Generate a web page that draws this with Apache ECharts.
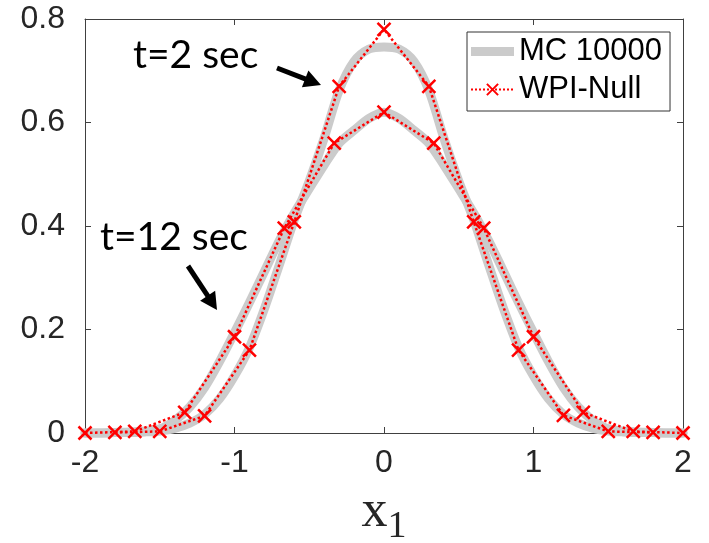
<!DOCTYPE html>
<html>
<head>
<meta charset="utf-8">
<script src="https://cdn.jsdelivr.net/npm/echarts@6/dist/echarts.min.js"></script>
<style>
  html, body { margin: 0; padding: 0; background: #fff; }
  #chart { width: 709px; height: 543px; }
</style>
</head>
<body>
<div id="chart"></div>
<script>
// x-grid of the Monte Carlo density estimates
const xMC = [-2.0,-1.9,-1.8,-1.7,-1.6,-1.5,-1.4,-1.3,-1.2,-1.1,-1.0,-0.9,-0.8,-0.7,-0.6,-0.5,-0.4,-0.3,-0.2,-0.1,
             0.0,0.1,0.2,0.3,0.4,0.5,0.6,0.7,0.8,0.9,1.0,1.1,1.2,1.3,1.4,1.5,1.6,1.7,1.8,1.9,2.0];
// MC 10000, t = 2 sec
const yMC2 = [0.000,0.000,0.001,0.001,0.002,0.004,0.009,0.019,0.036,0.066,0.110,0.165,0.240,0.325,0.412,0.487,0.570,0.662,0.718,0.742,
              0.746,0.742,0.718,0.662,0.570,0.487,0.412,0.325,0.240,0.165,0.110,0.066,0.036,0.019,0.009,0.004,0.002,0.001,0.001,0.000,0.000];
// MC 10000, t = 12 sec
const yMC12 = [0.000,0.000,0.001,0.002,0.004,0.008,0.024,0.050,0.088,0.138,0.194,0.252,0.312,0.372,0.425,0.472,0.518,0.560,0.585,0.608,
               0.620,0.608,0.585,0.560,0.518,0.472,0.425,0.372,0.312,0.252,0.194,0.138,0.088,0.050,0.024,0.008,0.004,0.002,0.001,0.000,0.000];

// WPI-Null solution, t = 2 sec
const xWpi2 = [-1.8,-1.5,-1.2,-0.9,-0.6,-0.3,0.0,0.3,0.6,0.9,1.2,1.5,1.8];
const yWpi2 = [0.001,0.003,0.033,0.160,0.408,0.670,0.780,0.670,0.408,0.160,0.034,0.003,0.001];
// WPI-Null solution, t = 12 sec
const xWpi12 = [-2.0,-1.667,-1.333,-1.0,-0.667,-0.333,0.0,0.333,0.667,1.0,1.333,1.667,2.0];
const yWpi12 = [0.000,0.003,0.040,0.186,0.396,0.560,0.620,0.560,0.396,0.186,0.040,0.003,0.000];

const xTicks = [-2, -1, 0, 1, 2];
const yTicks = [0, 0.2, 0.4, 0.6, 0.8];

const pairs = (xs, ys) => xs.map((x, i) => [x, ys[i]]);

const AX = '#404040';
const TXT = '#262626';
const MC_COLOR = '#cbcbcb';
const WPI_COLOR = '#ff0000';
const CROSS = 'path://M0,0L10,10M10,0L0,10';
// thick bar centred in the legend icon box
const BAR = 'path://M0,0M0,14M0,2.5H43V11.5H0Z';

function mcSeries(ys) {
  return {
    name: 'MC 10000', type: 'line', data: pairs(xMC, ys),
    showSymbol: false, symbol: 'none', smooth: 0.3, clip: false,
    lineStyle: { color: MC_COLOR, width: 9, cap: 'round', join: 'round' },
    itemStyle: { color: MC_COLOR },
    z: 2
  };
}
function wpiSeries(xs, ys) {
  return {
    name: 'WPI-Null', type: 'line', data: pairs(xs, ys),
    symbol: CROSS, symbolSize: 13, showAllSymbol: true, clip: false,
    lineStyle: { color: WPI_COLOR, width: 2.5, type: 'dotted' },
    itemStyle: { color: 'none', borderColor: WPI_COLOR, borderWidth: 2.5 },
    z: 3
  };
}

function arrow(x1, y1, x2, y2) {
  const dx = x2 - x1, dy = y2 - y1, len = Math.hypot(dx, dy);
  const ux = dx / len, uy = dy / len, px = -uy, py = ux;
  const hl = 17, hw = 9;
  const bx = x2 - ux * hl, by = y2 - uy * hl;
  return [
    { type: 'line', shape: { x1: x1, y1: y1, x2: bx + ux * 2, y2: by + uy * 2 },
      style: { stroke: '#000', lineWidth: 5 }, z: 10 },
    { type: 'polygon', shape: { points: [[x2, y2], [bx + px * hw, by + py * hw], [bx - px * hw, by - py * hw]] },
      style: { fill: '#000' }, z: 10 }
  ];
}

const baseAxis = {
  axisLine: { show: true, onZero: false, lineStyle: { color: AX, width: 1 } },
  axisTick: { show: true, inside: true, length: 6, lineStyle: { color: AX } },
  splitLine: { show: false }
};

const option = {
  animation: false,
  backgroundColor: '#ffffff',
  grid: { left: 85, right: 26, top: 19, bottom: 110, containLabel: false, outerBoundsMode: 'none' },
  xAxis: [
    Object.assign({}, baseAxis, {
      type: 'value', position: 'bottom', min: -2, max: 2, interval: 1,
      axisLabel: { color: TXT, fontSize: 32, fontFamily: 'Liberation Sans', margin: 14,
                   formatter: v => xTicks.includes(v) ? String(v) : '' },
      name: '{x|x}{s|1}', nameLocation: 'middle', nameGap: 53,
      nameTextStyle: { rich: {
        x: { fontFamily: 'Liberation Serif', fontSize: 52, color: TXT, verticalAlign: 'bottom' },
        s: { fontFamily: 'Liberation Serif', fontSize: 38, color: TXT, verticalAlign: 'bottom', padding: [0, 0, -8, 0] }
      } }
    }),
    Object.assign({}, baseAxis, {
      type: 'value', position: 'top', min: -2, max: 2, interval: 1, axisLabel: { show: false }
    })
  ],
  yAxis: [
    Object.assign({}, baseAxis, {
      type: 'value', position: 'left', min: 0, max: 0.8, interval: 0.2,
      axisLabel: { color: TXT, fontSize: 32, fontFamily: 'Liberation Sans', margin: 20,
                   formatter: v => { const t = yTicks.find(k => Math.abs(k - v) < 1e-9); return t === undefined ? '' : String(t); } }
    }),
    Object.assign({}, baseAxis, {
      type: 'value', position: 'right', min: 0, max: 0.8, interval: 0.2, axisLabel: { show: false }
    })
  ],
  legend: {
    orient: 'vertical', left: 467, top: 32,
    data: [
      { name: 'MC 10000', icon: BAR, itemStyle: { color: MC_COLOR, borderWidth: 0 } },
      { name: 'WPI-Null' }
    ],
    itemWidth: 43, itemHeight: 14, itemGap: 7,
    padding: [4, 8, 6, 3],
    borderColor: '#333', borderWidth: 1, backgroundColor: '#fff',
    textStyle: { color: '#000', fontSize: 31, fontFamily: 'Liberation Sans', lineHeight: 31 },
    selectedMode: false
  },
  series: [
    mcSeries(yMC2),
    mcSeries(yMC12),
    wpiSeries(xWpi2, yWpi2),
    wpiSeries(xWpi12, yWpi12)
  ],
  graphic: [
    { type: 'text', left: 133, top: 36, style: { text: 't=2 sec', font: '39px Lato', fill: '#000' }, z: 10 },
    { type: 'text', left: 100, top: 218, style: { text: 't=12 sec', font: '39px Lato', fill: '#000' }, z: 10 },
    ...arrow(277, 68, 321, 85),
    ...arrow(188, 266, 217, 310)
  ]
};

const chart = echarts.init(document.getElementById('chart'), null, { renderer: 'canvas' });
chart.setOption(option);
</script>
</body>
</html>
